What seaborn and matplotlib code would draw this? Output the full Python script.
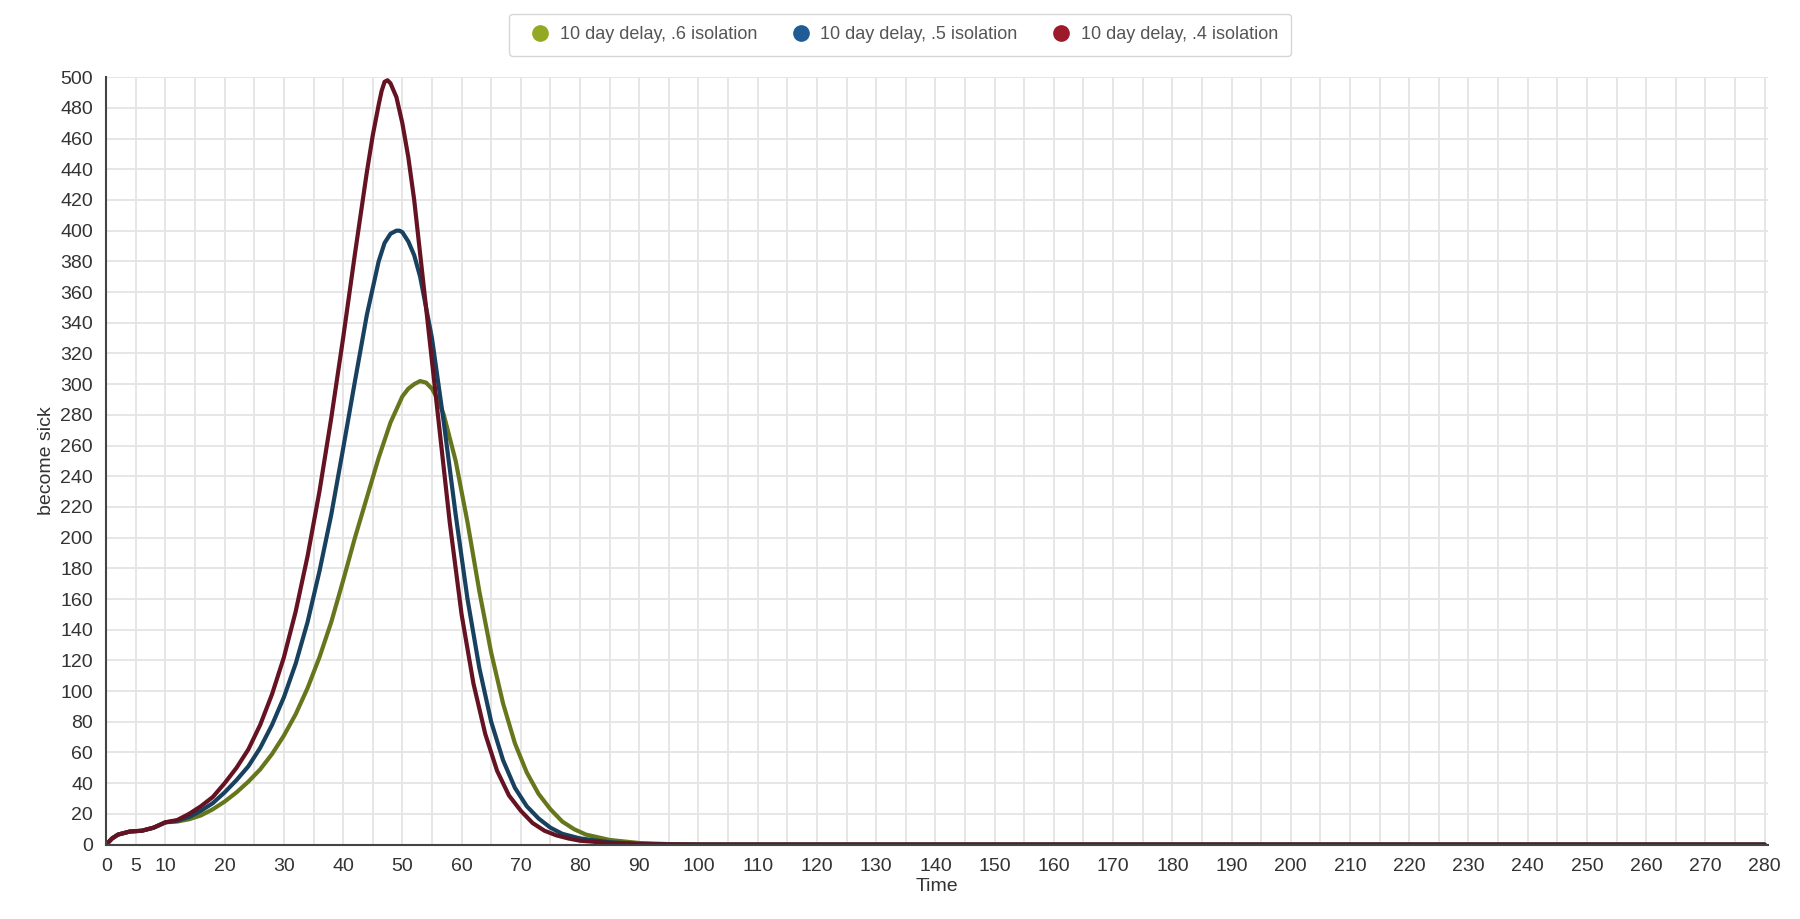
import pandas as pd
import seaborn as sns
import matplotlib.pyplot as plt
from matplotlib.lines import Line2D
from matplotlib.ticker import MultipleLocator

labels = ["10 day delay, .6 isolation", "10 day delay, .5 isolation", "10 day delay, .4 isolation"]

t_green = [0, 1, 2, 4, 6, 8, 10, 12, 14, 16, 18, 20, 22, 24, 26, 28, 30, 32, 34, 36, 38, 40, 42, 44, 46, 48,
           50, 51, 52, 53, 54, 55, 56, 57, 59, 61, 63, 65, 67, 69, 71, 73, 75, 77, 79, 81, 85, 90, 95, 100, 280]
y_green = [0, 4, 6.5, 8.5, 9, 11, 14.5, 15, 16.5, 19, 23, 28, 34, 41, 49, 59, 71, 85, 102, 122, 145, 172, 200, 226,
           252, 275, 292, 297, 300, 302, 301, 297, 290, 280, 250, 210, 165, 125, 92, 66, 47, 33, 23, 15, 10, 6.5,
           3, 1, 0.3, 0, 0]

t_blue = [0, 1, 2, 4, 6, 8, 10, 12, 14, 16, 18, 20, 22, 24, 26, 28, 30, 32, 34, 36, 38, 40, 42, 44, 46, 47, 48,
          49, 49.5, 50, 51, 52, 53, 55, 57, 59, 61, 63, 65, 67, 69, 71, 73, 75, 77, 80, 85, 90, 95, 100, 280]
y_blue = [0, 4, 6.5, 8.5, 9, 11, 14.5, 15.5, 18, 22, 27, 34, 42, 51, 63, 78, 96, 118, 145, 178, 215, 258, 302, 345,
          380, 392, 398, 400, 400, 399, 393, 384, 370, 330, 275, 215, 160, 115, 80, 55, 37, 25, 17, 11, 7, 4,
          1.5, 0.5, 0.1, 0, 0]

t_red = [0, 1, 2, 4, 6, 8, 10, 12, 14, 16, 18, 20, 22, 24, 26, 28, 30, 32, 34, 36, 38, 40, 42, 44, 45, 46, 46.5,
         47, 47.5, 48, 49, 50, 51, 52, 54, 56, 58, 60, 62, 64, 66, 68, 70, 72, 74, 76, 78, 80, 85, 90, 95, 100, 280]
y_red = [0, 4, 6.5, 8.5, 9, 11, 14.5, 16, 20, 25, 31, 40, 50, 62, 78, 98, 122, 152, 188, 230, 278, 330, 385, 438,
         462, 482, 491, 497, 498, 496, 487, 470, 448, 420, 350, 280, 210, 150, 105, 72, 48, 32, 22, 14, 9, 6, 4,
         2.5, 1, 0.3, 0.1, 0, 0]

x_ticks = [0, 5, 10] + list(range(20, 290, 10))
line_colors = ["#66761c", "#17415f", "#651322"]
dot_colors = ["#93a823", "#1f5c96", "#9c1a2a"]

df = pd.concat([
    pd.DataFrame({"Time": t_green, "become sick": y_green, "series": labels[0]}),
    pd.DataFrame({"Time": t_blue, "become sick": y_blue, "series": labels[1]}),
    pd.DataFrame({"Time": t_red, "become sick": y_red, "series": labels[2]}),
])

sns.set_style("white")
plt.rcParams['font.family'] = ['Liberation Sans', 'DejaVu Sans']
fig = plt.figure(figsize=(18, 9.19), dpi=100)
ax = fig.add_axes([0.059, 0.081, 0.923, 0.835])

sns.lineplot(data=df, x="Time", y="become sick", hue="series", palette=line_colors,
             linewidth=3, ax=ax, legend=False, sort=False)

ax.set_xlim(0, 280.5)
ax.set_ylim(0, 500)
ax.set_xticks(x_ticks)
ax.xaxis.set_minor_locator(MultipleLocator(5))
ax.set_yticks(range(0, 520, 20))
ax.grid(True, which="both", color="#e4e4e4", linewidth=1.3)
ax.tick_params(axis="both", colors="#444444", labelsize=14, length=6, direction="out", width=1.2)
ax.tick_params(axis="x", which="minor", length=6, colors="#444444", width=1.2)
ax.tick_params(axis="both", labelcolor="#333333")
for s in ["top", "right"]:
    ax.spines[s].set_visible(False)
for s in ["left", "bottom"]:
    ax.spines[s].set_color("#444444")
    ax.spines[s].set_linewidth(1.5)
ax.set_xlabel("Time", fontsize=14, color="#333333", labelpad=2)
ax.set_ylabel("become sick", fontsize=14, color="#333333", labelpad=4)

handles = [Line2D([], [], marker="o", linestyle="", markersize=11, color=c) for c in dot_colors]
leg = fig.legend(handles, labels, loc="upper center", bbox_to_anchor=(0.5, 0.995), ncol=3,
                 fontsize=13, frameon=True, handletextpad=0.1, columnspacing=1.4, borderpad=0.7)
leg.get_frame().set_edgecolor("#cccccc")
for txt in leg.get_texts():
    txt.set_color("#555555")

plt.savefig("out.png", dpi=100)
